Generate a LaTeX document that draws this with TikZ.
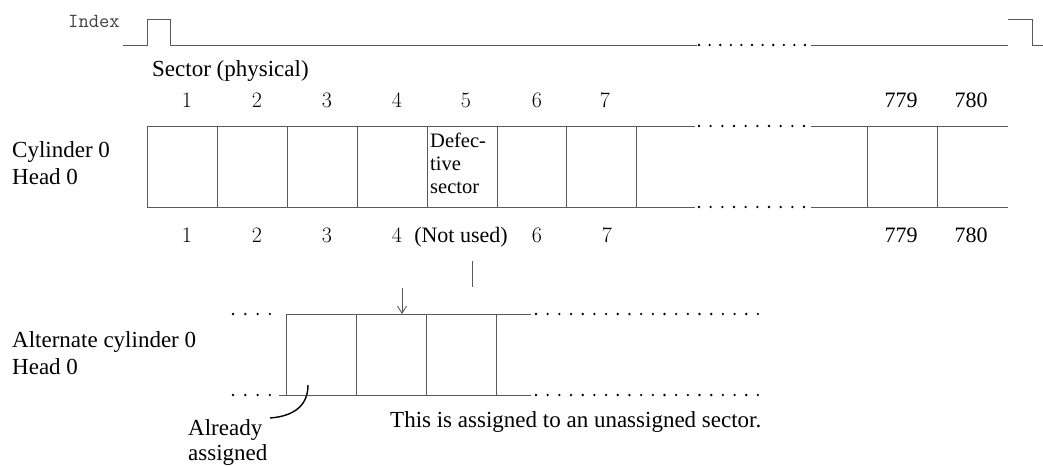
\documentclass[tikz,border=0pt]{standalone}
\usepackage{fontspec}
\newfontfamily\tms{Liberation Serif}
\usetikzlibrary{arrows.meta}
\begin{document}
\begin{tikzpicture}[x=1pt,y=-1pt,
  ln/.style={draw=black!65, line width=0.9pt},
  txt/.style={font=\tms\fontsize{23}{27}\selectfont, inner sep=0pt, anchor=base west},
  dtxt/.style={font=\tms\fontsize{22}{26}\selectfont, inner sep=0pt, anchor=base},
  dig/.style={font=\fontsize{22}{26}\selectfont, inner sep=0pt, anchor=base},
  small/.style={font=\tms\fontsize{20.5}{24}\selectfont, inner sep=0pt, anchor=base west},
  dotf/.style={fill=black}]
\useasboundingbox (0,0) rectangle (1043,466);

% ---------- Index signal ----------
\node[font=\ttfamily\fontsize{20}{22}\selectfont, text=black!75, inner sep=0pt, anchor=base west] (idx) at (68,27) {Index};
\coordinate (i0) at (123,45);
\coordinate (i1) at (697,45);
\coordinate (i2) at (811,45);
\coordinate (i3) at (1008,45);
\draw[ln] (i0) -- (147,45) -- (147,19) -- (170,19) -- (170,45) -- (i1);
\draw[ln] (i2) -- (i3);
\draw[ln] (1008,19) -- (1032,19) -- (1032,45) -- (1043,45);
\foreach \i in {0,...,10} \fill[dotf] ({699+\i*10.6},45) circle (1.3);

% ---------- labels ----------
\node[txt] (sec) at (152,76) {Sector (physical)};

\foreach \x/\t [count=\k] in {187/1,257/2,327/3,397/4,466/5,537/6,605/7}
  \node[dig] (t\k) at (\x,107) {\t};
\node[dtxt] (t779) at (901,107) {779};
\node[dtxt] (t780) at (971,107) {780};

\node[txt] (cyl) at (12,157) {Cylinder 0};
\node[txt] (hd) at (12,184) {Head 0};

% ---------- cylinder 0 track ----------
\coordinate (ta) at (147,126); \coordinate (tb) at (695,126);
\coordinate (tc) at (811,126); \coordinate (td) at (1008,126);
\coordinate (ba) at (147,207); \coordinate (bb) at (695,207);
\coordinate (bc) at (811,207); \coordinate (bd) at (1008,207);
\draw[ln] (ta) -- (tb); \draw[ln] (tc) -- (td);
\draw[ln] (ba) -- (bb); \draw[ln] (bc) -- (bd);
\foreach \x in {147,217,287,357,427,497,566,636,867,937}
  \draw[ln] (\x,126) -- (\x,207);
\foreach \i in {0,...,9} {
  \fill[dotf] ({699+\i*11.67},126) circle (1.3);
  \fill[dotf] ({699+\i*11.67},207) circle (1.3);
}
\node[small] (d1) at (430,147) {Defec-};
\node[small] (d2) at (430,170) {tive};
\node[small] (d3) at (430,193) {sector};

\foreach \x/\t [count=\k] in {187/1,257/2,327/3,397/4}
  \node[dig] (b\k) at (\x,242) {\t};
\node[dtxt] (nu) at (461,242) {(Not used)};
\node[dig] (b6) at (537,242) {6};
\node[dig] (b7) at (607,242) {7};
\node[dtxt] (b779) at (901,242) {779};
\node[dtxt] (b780) at (971,242) {780};

% short mark and arrow
\coordinate (m1) at (472,261); \coordinate (m2) at (472,287);
\draw[ln] (m1) -- (m2);
\coordinate (a1) at (402,288); \coordinate (a2) at (402,314);
\draw[ln, -{Straight Barb[length=7pt,width=9pt]}] (a1) -- (a2);

% ---------- alternate cylinder ----------
\node[txt] (alt) at (12,347) {Alternate cylinder 0};
\node[txt] (hd2) at (12,374) {Head 0};
\coordinate (ua) at (286,314); \coordinate (ub) at (531,314);
\coordinate (la) at (279,395); \coordinate (lb) at (531,395);
\draw[ln] (ua) -- (ub);
\draw[ln] (la) -- (lb);
\foreach \x in {286,356,426,496} \draw[ln] (\x,314) -- (\x,395);
\foreach \i in {0,...,3} {
  \fill[dotf] ({233+\i*12.3},314) circle (1.3);
  \fill[dotf] ({233+\i*12.3},395) circle (1.3);
}
\foreach \i in {0,...,19} {
  \fill[dotf] ({536+\i*11.68},314) circle (1.3);
  \fill[dotf] ({536+\i*11.68},395) circle (1.3);
}

\node[txt] (ald) at (188,435) {Already};
\node[txt] (asg) at (188,460) {assigned};
\coordinate (c0) at (308,385);
\coordinate (c1) at (270,418);
\draw[line width=1.4pt] (c0) .. controls (308,404) and (296,416) .. (c1);

\node[txt] (note) at (390,427) {This is assigned to an unassigned sector.};
\end{tikzpicture}
\end{document}
